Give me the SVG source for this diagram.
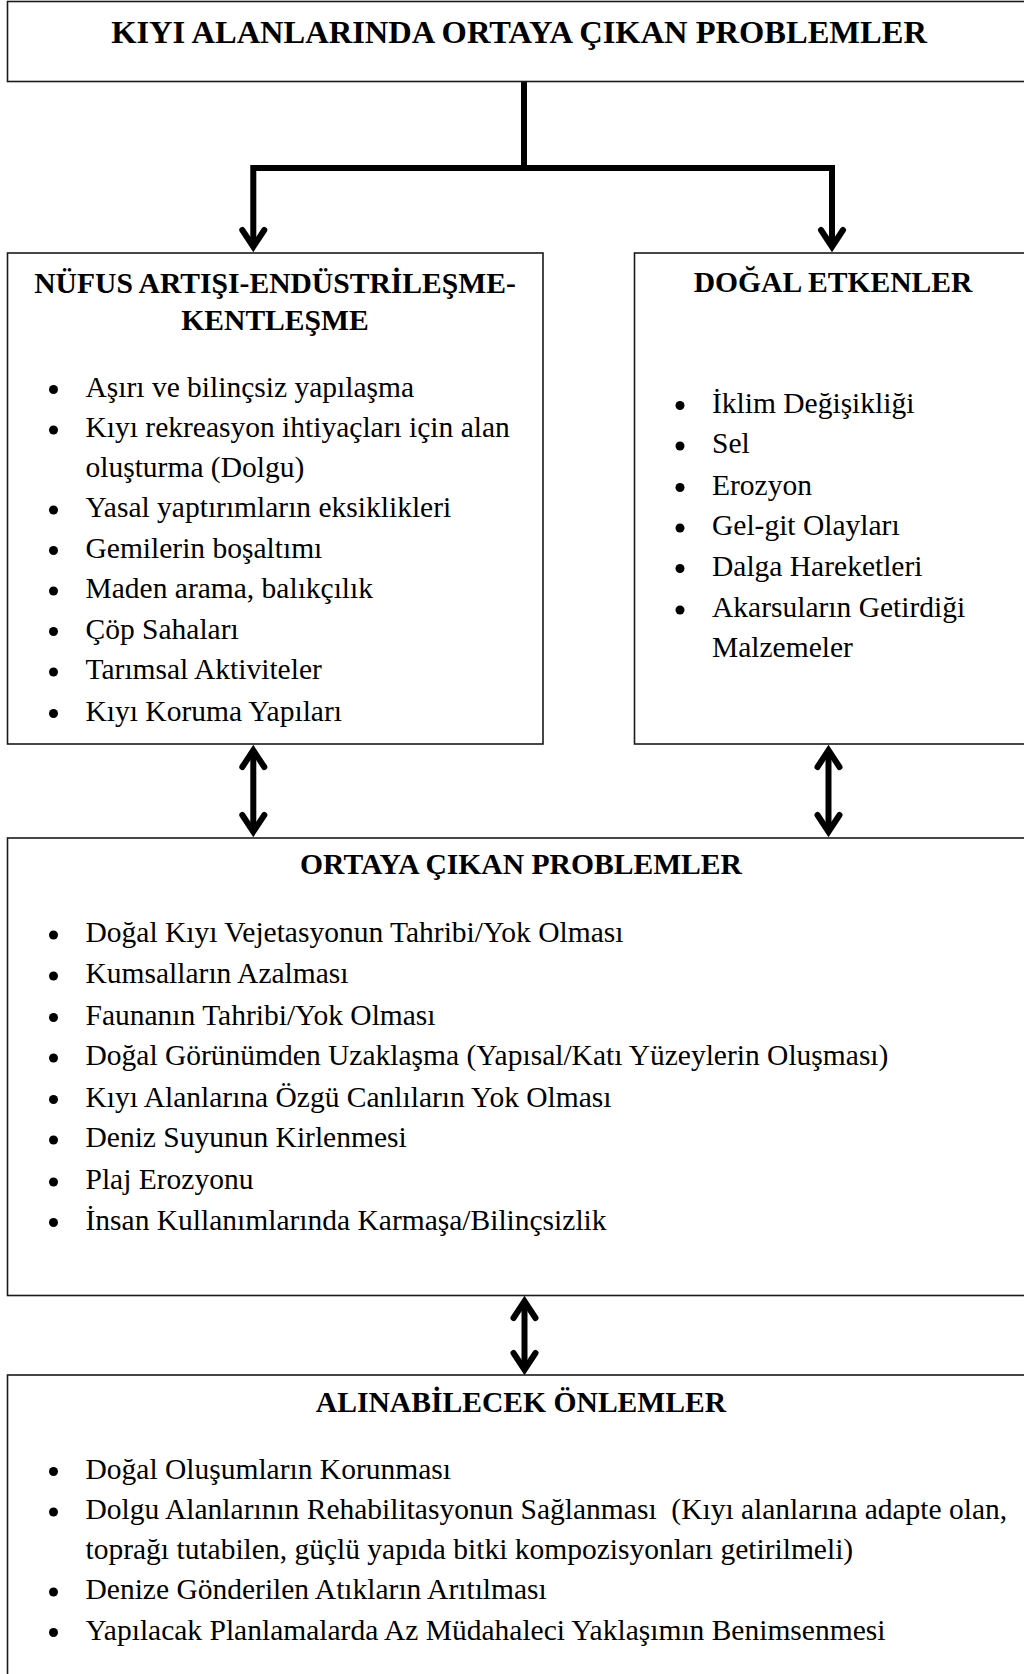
<svg xmlns="http://www.w3.org/2000/svg" width="1024" height="1674" viewBox="0 0 1024 1674">
  <style>
    .box { fill: none; stroke: #1a1a1a; stroke-width: 1.6; }
    .t { font-family: "Liberation Serif", "Times New Roman", serif; font-size: 29.5px; fill: #000; }
    .h { font-family: "Liberation Serif", "Times New Roman", serif; font-size: 29.6px; font-weight: bold; fill: #000; text-anchor: middle; }
    .title { font-size: 32.5px; }
    .dot { fill: #000; }
    .conn { fill: none; stroke: #000; stroke-width: 6; stroke-linejoin: miter; }
  </style>
  <defs>
    <!-- open chevron head; tip sits 6px beyond the path end -->
    <marker id="chev" markerUnits="userSpaceOnUse" orient="auto-start-reverse" refX="-6" refY="0" markerWidth="40" markerHeight="40" overflow="visible">
      <path d="M-22,-11 L-5.3,0 L-22,11" fill="none" stroke="#000" stroke-width="6" stroke-linecap="round" stroke-linejoin="miter"/>
    </marker>
  </defs>

  <rect width="1024" height="1674" fill="#fff"/>

  <!-- connectors -->
  <g id="connectors">
    <path class="conn" d="M524,81 V168"/>
    <path class="conn" d="M253.3,246 V168 H832 V246" marker-start="url(#chev)" marker-end="url(#chev)"/>
    <path class="conn" d="M253.3,751 V831" marker-start="url(#chev)" marker-end="url(#chev)"/>
    <path class="conn" d="M828.5,751 V831" marker-start="url(#chev)" marker-end="url(#chev)"/>
    <path class="conn" d="M524.5,1302 V1369" marker-start="url(#chev)" marker-end="url(#chev)"/>
  </g>

  <!-- top heading -->
  <g id="node-main">
    <rect class="box" x="7.5" y="1.5" width="1030" height="80"/>
    <text class="h title" x="519" y="42.5">KIYI ALANLARINDA ORTAYA ÇIKAN PROBLEMLER</text>
  </g>

  <!-- population / industry / urbanisation -->
  <g id="node-nufus">
    <rect class="box" x="7.5" y="253" width="535.5" height="491"/>
    <text class="h" x="275" y="293">NÜFUS ARTIŞI-ENDÜSTRİLEŞME-</text>
    <text class="h" x="275" y="330">KENTLEŞME</text>
    <g class="dot">
      <circle cx="53.5" cy="389.5" r="4.5"/>
      <circle cx="53.5" cy="430" r="4.5"/>
      <circle cx="53.5" cy="510" r="4.5"/>
      <circle cx="53.5" cy="550.5" r="4.5"/>
      <circle cx="53.5" cy="591" r="4.5"/>
      <circle cx="53.5" cy="631.5" r="4.5"/>
      <circle cx="53.5" cy="672" r="4.5"/>
      <circle cx="53.5" cy="713.5" r="4.5"/>
    </g>
    <text class="t" x="85.5" y="396.7">Aşırı ve bilinçsiz yapılaşma</text>
    <text class="t" x="85.5" y="437.2">Kıyı rekreasyon ihtiyaçları için alan</text>
    <text class="t" x="85.5" y="476.5">oluşturma (Dolgu)</text>
    <text class="t" x="85.5" y="517.3">Yasal yaptırımların eksiklikleri</text>
    <text class="t" x="85.5" y="557.8">Gemilerin boşaltımı</text>
    <text class="t" x="85.5" y="598.2">Maden arama, balıkçılık</text>
    <text class="t" x="85.5" y="638.8">Çöp Sahaları</text>
    <text class="t" x="85.5" y="679.2">Tarımsal Aktiviteler</text>
    <text class="t" x="85.5" y="720.6">Kıyı Koruma Yapıları</text>
  </g>

  <!-- natural factors -->
  <g id="node-dogal">
    <rect class="box" x="634.5" y="253" width="403" height="491"/>
    <text class="h" x="833" y="292">DOĞAL ETKENLER</text>
    <g class="dot">
      <circle cx="680" cy="405.5" r="4.5"/>
      <circle cx="680" cy="446" r="4.5"/>
      <circle cx="680" cy="487.5" r="4.5"/>
      <circle cx="680" cy="528" r="4.5"/>
      <circle cx="680" cy="568.5" r="4.5"/>
      <circle cx="680" cy="610" r="4.5"/>
    </g>
    <text class="t" x="712" y="412.8">İklim Değişikliği</text>
    <text class="t" x="712" y="453.2">Sel</text>
    <text class="t" x="712" y="494.8">Erozyon</text>
    <text class="t" x="712" y="535.3">Gel-git Olayları</text>
    <text class="t" x="712" y="575.7">Dalga Hareketleri</text>
    <text class="t" x="712" y="617.3">Akarsuların Getirdiği</text>
    <text class="t" x="712" y="656.5">Malzemeler</text>
  </g>

  <!-- resulting problems -->
  <g id="node-problemler">
    <rect class="box" x="7.5" y="838" width="1030" height="457.5"/>
    <text class="h" x="521" y="874">ORTAYA ÇIKAN PROBLEMLER</text>
    <g class="dot">
      <circle cx="53.5" cy="935" r="4.5"/>
      <circle cx="53.5" cy="976" r="4.5"/>
      <circle cx="53.5" cy="1017.5" r="4.5"/>
      <circle cx="53.5" cy="1058" r="4.5"/>
      <circle cx="53.5" cy="1099.5" r="4.5"/>
      <circle cx="53.5" cy="1140" r="4.5"/>
      <circle cx="53.5" cy="1182" r="4.5"/>
      <circle cx="53.5" cy="1222.5" r="4.5"/>
    </g>
    <text class="t" x="85.5" y="942">Doğal Kıyı Vejetasyonun Tahribi/Yok Olması</text>
    <text class="t" x="85.5" y="983">Kumsalların Azalması</text>
    <text class="t" x="85.5" y="1024.5">Faunanın Tahribi/Yok Olması</text>
    <text class="t" x="85.5" y="1065">Doğal Görünümden Uzaklaşma (Yapısal/Katı Yüzeylerin Oluşması)</text>
    <text class="t" x="85.5" y="1106.5">Kıyı Alanlarına Özgü Canlıların Yok Olması</text>
    <text class="t" x="85.5" y="1147">Deniz Suyunun Kirlenmesi</text>
    <text class="t" x="85.5" y="1189">Plaj Erozyonu</text>
    <text class="t" x="85.5" y="1229.5">İnsan Kullanımlarında Karmaşa/Bilinçsizlik</text>
  </g>

  <!-- measures -->
  <g id="node-onlemler">
    <rect class="box" x="7.5" y="1375" width="1030" height="320"/>
    <text class="h" x="521" y="1412">ALINABİLECEK ÖNLEMLER</text>
    <g class="dot">
      <circle cx="53.5" cy="1471.5" r="4.5"/>
      <circle cx="53.5" cy="1512" r="4.5"/>
      <circle cx="53.5" cy="1592" r="4.5"/>
      <circle cx="53.5" cy="1632.5" r="4.5"/>
    </g>
    <text class="t" x="85.5" y="1478.5">Doğal Oluşumların Korunması</text>
    <text class="t" x="85.5" y="1519" style="white-space:pre">Dolgu Alanlarının Rehabilitasyonun Sağlanması  (Kıyı alanlarına adapte olan,</text>
    <text class="t" x="85.5" y="1558.5">toprağı tutabilen, güçlü yapıda bitki kompozisyonları getirilmeli)</text>
    <text class="t" x="85.5" y="1599">Denize Gönderilen Atıkların Arıtılması</text>
    <text class="t" x="85.5" y="1639.5">Yapılacak Planlamalarda Az Müdahaleci Yaklaşımın Benimsenmesi</text>
  </g>
</svg>
